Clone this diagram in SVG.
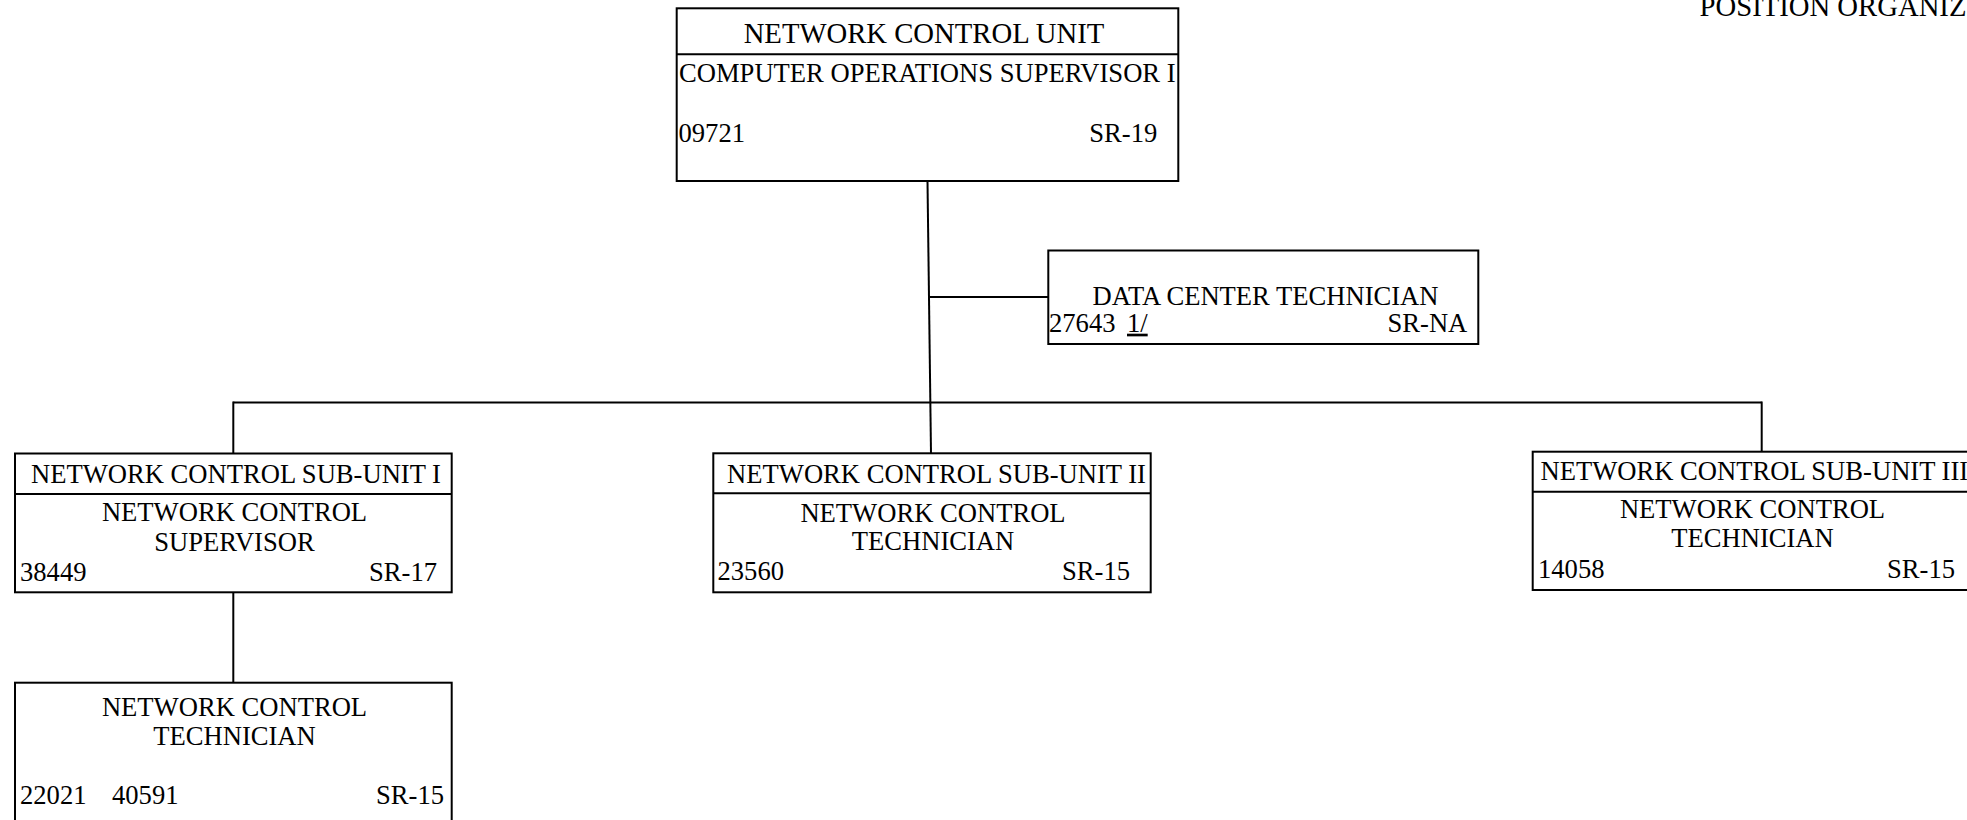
<svg xmlns="http://www.w3.org/2000/svg" width="1967" height="820" viewBox="0 0 1967 820">
<style>
text{font-family:"Liberation Serif","Times New Roman",serif;font-size:26.6px;fill:#000}
.big{font-size:28.7px}
.box{fill:#fff;stroke:#000;stroke-width:2}
.div{stroke:#000;stroke-width:2}
.c{text-anchor:middle}
.r{text-anchor:end}
.conn line{stroke:#000;stroke-width:2}
</style>
<defs>
<clipPath id="clipTop"><rect x="676" y="8" width="501.5" height="173"/></clipPath>
</defs>
<rect width="1967" height="820" fill="#fff"/>
<text id="title" class="big" x="1699.5" y="16">POSITION ORGANIZ</text>
<g class="conn" id="connectors">
<line x1="927.5" y1="181" x2="931" y2="453.3"/>
<line x1="929" y1="297" x2="1048.3" y2="297"/>
<line x1="233.3" y1="402.5" x2="1761.7" y2="402.5"/>
<line x1="233.3" y1="401.5" x2="233.3" y2="453.5"/>
<line x1="1761.7" y1="401.5" x2="1761.7" y2="451.7"/>
<line x1="233.3" y1="592.3" x2="233.3" y2="682.7"/>
</g>
<g id="unit">
<rect class="box" x="676.7" y="8.3" width="501.6" height="172.7"/>
<line class="div" x1="676.7" y1="54.3" x2="1178.3" y2="54.3"/>
<text class="c big" x="924" y="42.7">NETWORK CONTROL UNIT</text>
<g clip-path="url(#clipTop)">
<text x="679" y="81.7">COMPUTER OPERATIONS SUPERVISOR I</text>
</g>
<text x="678.5" y="141.7">09721</text>
<text class="r" x="1157.3" y="141.7">SR-19</text>
</g>
<g id="datacenter">
<rect class="box" x="1048.3" y="250.5" width="430" height="93.5"/>
<text class="c" x="1265.5" y="305">DATA CENTER TECHNICIAN</text>
<text x="1049" y="331.7">27643</text>
<text x="1127" y="331.7" style="text-decoration:underline">1/</text>
<text class="r" x="1467.3" y="331.7">SR-NA</text>
</g>
<g id="subunit1">
<rect class="box" x="15" y="453.5" width="436.7" height="138.8"/>
<line class="div" x1="15" y1="494" x2="451.7" y2="494"/>
<text class="c" x="236" y="483.3">NETWORK CONTROL SUB-UNIT I</text>
<text class="c" x="234.5" y="521">NETWORK CONTROL</text>
<text class="c" x="234.5" y="550.7">SUPERVISOR</text>
<text x="20" y="581">38449</text>
<text class="r" x="437" y="581">SR-17</text>
</g>
<g id="subunit2">
<rect class="box" x="713.3" y="453.3" width="437.4" height="139"/>
<line class="div" x1="713.3" y1="493.3" x2="1150.7" y2="493.3"/>
<text class="c" x="936.5" y="483">NETWORK CONTROL SUB-UNIT II</text>
<text class="c" x="933" y="521.7">NETWORK CONTROL</text>
<text class="c" x="933" y="550">TECHNICIAN</text>
<text x="717.5" y="580">23560</text>
<text class="r" x="1130" y="580">SR-15</text>
</g>
<g id="subunit3">
<rect class="box" x="1532.7" y="451.7" width="437.3" height="138.3"/>
<line class="div" x1="1532.7" y1="491.7" x2="1970" y2="491.7"/>
<text x="1540.5" y="480">NETWORK CONTROL SUB-UNIT III</text>
<text class="c" x="1752.5" y="518.3">NETWORK CONTROL</text>
<text class="c" x="1752.5" y="546.7">TECHNICIAN</text>
<text x="1538" y="578.3">14058</text>
<text class="r" x="1955" y="578.3">SR-15</text>
</g>
<g id="technician1">
<rect class="box" x="15" y="682.7" width="436.7" height="150"/>
<text class="c" x="234.5" y="716">NETWORK CONTROL</text>
<text class="c" x="234.5" y="745">TECHNICIAN</text>
<text x="20" y="804.3">22021</text>
<text x="112" y="804.3">40591</text>
<text class="r" x="444" y="804.3">SR-15</text>
</g>
</svg>
